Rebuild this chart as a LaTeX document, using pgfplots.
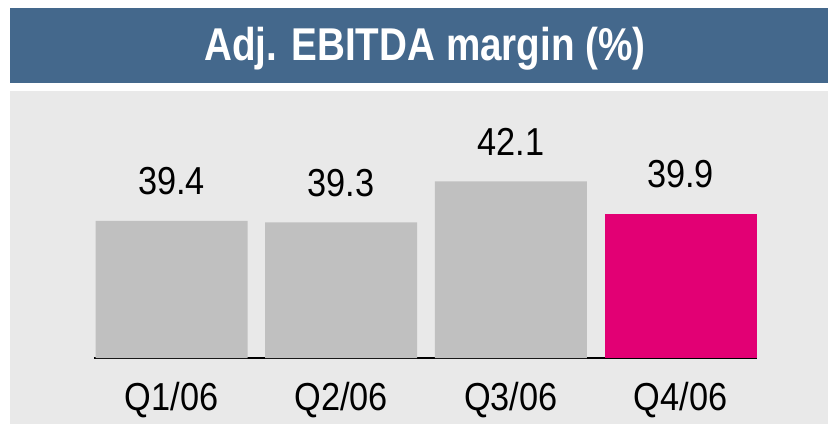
\documentclass[border=0pt]{standalone}
\usepackage{pgfplots}
\pgfplotsset{compat=1.18}
\usepackage{fontspec}
\setmainfont{Liberation Sans}
\newfontfamily\narrow[FakeStretch=0.88]{Liberation Sans}
\newfontfamily\titlefont[FakeStretch=0.84]{Liberation Sans}
\definecolor{titleblue}{RGB}{68,104,140}
\definecolor{panel}{RGB}{233,233,233}
\definecolor{bargray}{RGB}{192,192,192}
\definecolor{magenta}{RGB}{226,0,116}
\begin{document}
\begin{tikzpicture}[x=1bp,y=1bp]
\fill[white] (0,0) rectangle (828,424);
\fill[titleblue] (10,341) rectangle (828,416);
\fill[panel] (10,0) rectangle (828,333);
\node[anchor=base, text=white, inner sep=0pt] at (425,364) {\titlefont\bfseries\fontsize{46bp}{50bp}\selectfont Adj. EBITDA margin (\%)};
\begin{axis}[
  at={(94bp,66bp)}, anchor=south west,
  scale only axis, width=663bp, height=248bp,
  xmin=-0.4567, xmax=3.450, ymin=30.03, ymax=46.97,
  axis x line=bottom, axis y line=none,
  x axis line style={-, line width=1.5bp, black},
  xtick={0,1,2,3}, xticklabels={Q1/06,Q2/06,Q3/06,Q4/06},
  major tick length=0pt,
  xticklabel style={font=\narrow\fontsize{39bp}{44bp}\selectfont, anchor=base, yshift=-52bp},
  ybar, bar width=152bp, bar shift=0pt,
  point meta=explicit symbolic,
  nodes near coords,
  every node near coord/.append style={font=\narrow\fontsize{39bp}{44bp}\selectfont, anchor=base, yshift=26bp, text=black},
  axis on top=false,
]
\addplot[fill=bargray, draw=none] coordinates {(0,39.4)[39.4] (1,39.3)[39.3] (2,42.1)[42.1]};
\addplot[fill=magenta, draw=none] coordinates {(3,39.9)[39.9]};
\end{axis}
\end{tikzpicture}
\end{document}
